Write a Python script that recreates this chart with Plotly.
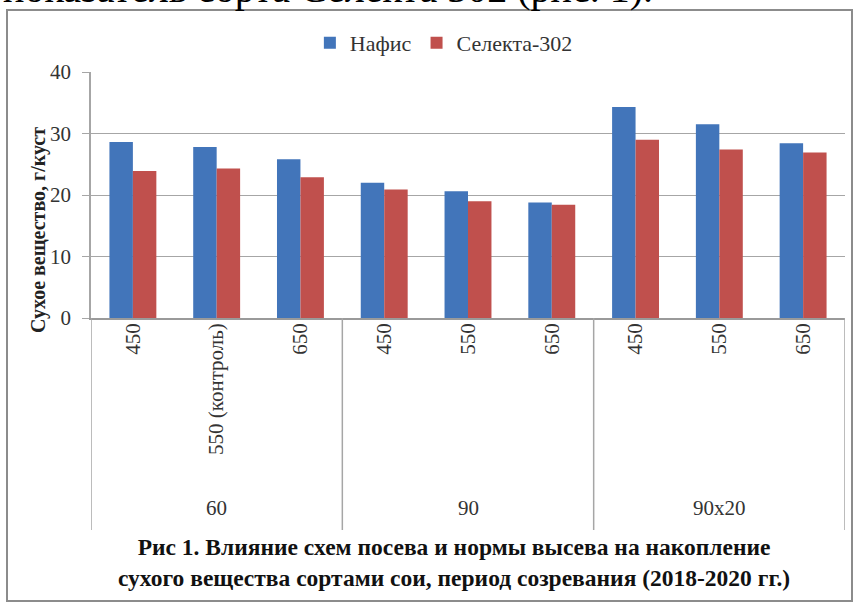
import plotly.graph_objects as go

groups = ["60", "90", "90x20"]
rates = ["450", "550 (контроль)", "650", "450", "550", "650", "450", "550", "650"]
series_names = ["Нафис", "Селекта-302"]
nafis = [28.6, 27.8, 25.8, 22.0, 20.6, 18.8, 34.3, 31.5, 28.4]
selekta = [23.9, 24.3, 22.9, 20.9, 19.0, 18.4, 29.0, 27.4, 26.9]
y_title = "Сухое вещество, г/куст"
caption = ("Рис 1. Влияние схем посева и нормы высева на накопление<br>"
           "сухого вещества сортами сои, период созревания (2018-2020 гг.)")
page_text = "показатель сорта Селекта 302 (рис. 1)."

colors = ["#4275BA", "#C0504D"]
FONT = "Liberation Serif, Times New Roman, serif"

W, H = 864, 612
L, R, T, B = 91, 19, 72, 294
pw, ph = W - L - R, H - T - B

def px_x(px):
    return (px - L) / pw

def px_y(py):
    return (H - B - py) / ph

xs = list(range(len(rates)))

fig = go.Figure()
for name, vals, col in zip(series_names, [nafis, selekta], colors):
    fig.add_trace(go.Bar(x=xs, y=vals, name=name, marker=dict(color=col, line=dict(width=0))))

fig.update_layout(
    width=W, height=H,
    margin=dict(l=L, r=R, t=T, b=B, pad=0),
    paper_bgcolor="white", plot_bgcolor="white",
    barmode="group", bargap=0.44, bargroupgap=0,
    font=dict(family=FONT, size=21, color="#333333"),
    showlegend=True,
    legend=dict(orientation="h", x=0.468, xanchor="center", y=px_y(43), yanchor="middle",
                font=dict(family=FONT, size=22, color="#333333"),
                itemwidth=30, tracegroupgap=0, bgcolor="rgba(0,0,0,0)"),
    xaxis=dict(range=[-0.5, len(rates) - 0.5], tickmode="array", tickvals=xs, ticktext=rates,
               tickangle=-90, ticks="", showgrid=False, showline=True, linecolor="#9a9a9a",
               linewidth=1.5, tickfont=dict(family=FONT, size=21, color="#333333"),
               ticklabelstandoff=-5, zeroline=False, fixedrange=True),
    yaxis=dict(range=[0, 40], dtick=10, showgrid=True, gridcolor="#a6a6a6", gridwidth=1.2,
               showline=True, linecolor="#a6a6a6", linewidth=1.5, ticks="outside", ticklen=7,
               tickcolor="#a6a6a6", tickfont=dict(family=FONT, size=21, color="#333333"),
               ticklabelstandoff=7, zeroline=False, fixedrange=True),
)

shapes = []
# category-level separators (left edge, between groups, right edge)
for xv in [-0.5, 2.5, 5.5, 8.5]:
    shapes.append(dict(type="line", xref="x", yref="paper", x0=xv, x1=xv,
                       y0=0, y1=px_y(530), line=dict(color="#a6a6a6", width=1.5)))
# chart border
shapes.append(dict(type="rect", xref="paper", yref="paper", x0=px_x(7), x1=px_x(852),
                   y0=px_y(601), y1=px_y(10), line=dict(color="#8c8c8c", width=2),
                   fillcolor="rgba(0,0,0,0)", layer="below"))
fig.update_layout(shapes=shapes)

ann = []
for gi, g in enumerate(groups):
    ann.append(dict(text=g, xref="x", yref="paper", x=gi * 3 + 1, y=px_y(508),
                    showarrow=False, xanchor="center", yanchor="middle",
                    font=dict(family=FONT, size=21, color="#333333")))
ann.append(dict(text="<b>" + y_title + "</b>", xref="paper", yref="paper",
                x=px_x(38), y=px_y(230), textangle=-90, showarrow=False,
                xanchor="center", yanchor="middle",
                font=dict(family=FONT, size=20, color="#222222")))
ann.append(dict(text="<b>" + caption + "</b>", xref="paper", yref="paper",
                x=px_x(454), y=px_y(562), showarrow=False, xanchor="center", yanchor="middle",
                align="center", font=dict(family=FONT, size=23.5, color="#111111")))
ann.append(dict(text=page_text, xref="paper", yref="paper",
                x=px_x(655), y=px_y(-11.5), showarrow=False, xanchor="right", yanchor="middle",
                font=dict(family=FONT, size=40, color="#000000")))
fig.update_layout(annotations=ann)

fig.write_html("out.html", post_script="document.body.style.margin='0';",
               config={"displayModeBar": False})
